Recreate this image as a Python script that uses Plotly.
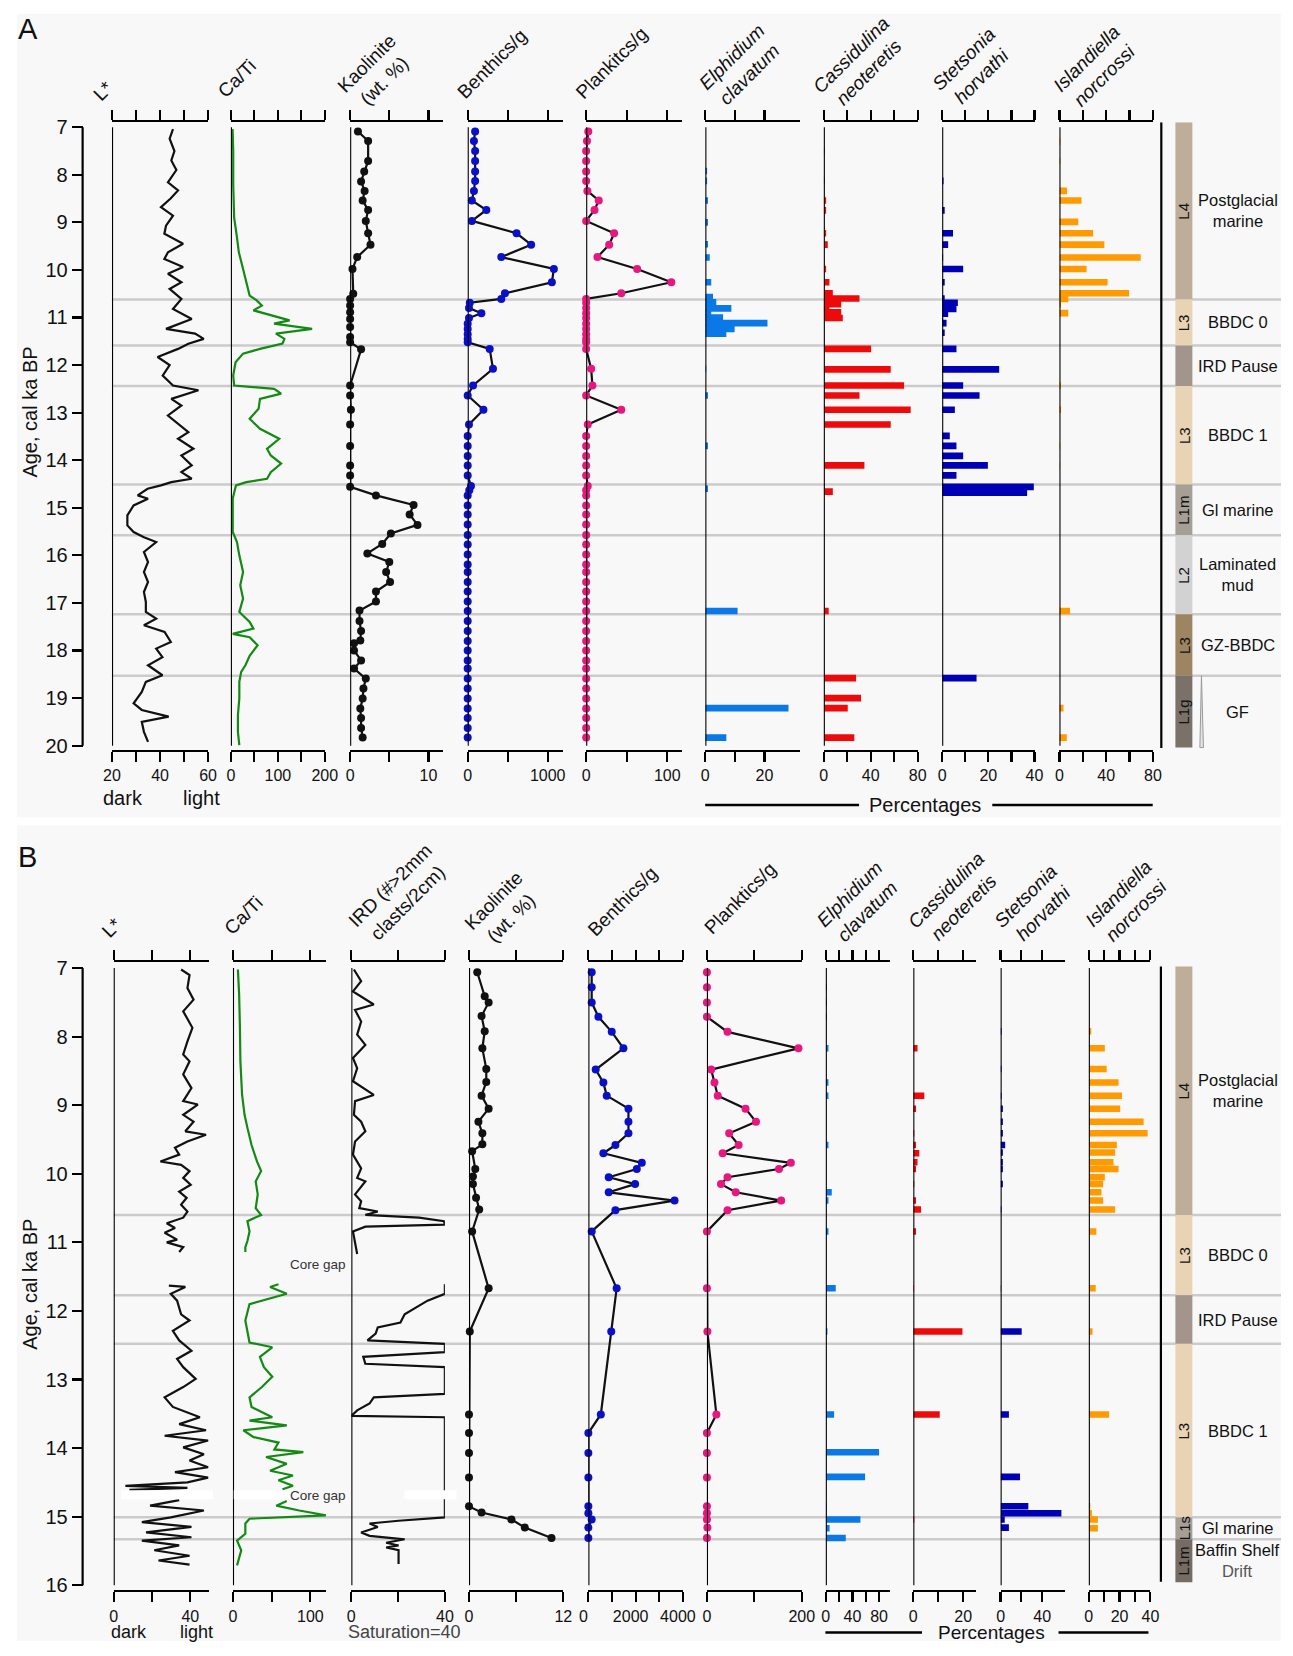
import plotly.graph_objects as go

# Page geometry: the photographed page shows the figure offset by (16, 15) px and scaled by
# (0.984, 0.993); positions below are given in target-picture pixels and converted here.
OX, OY = 16.0, 15.0
SX, SY = 0.984, 0.993
W, H = 1286, 1640
def px(v): return ((v - OX) / SX) / W
def py(v): return 1 - ((v - OY) / SY) / H

FONT = "Liberation Sans, Arial, Helvetica, sans-serif"

# ======================= PANEL A DATA =======================
A_LSTAR_AGE = [7.04,7.24,7.5,7.7,7.9,8.16,8.33,8.5,8.68,8.86,9.07,9.24,9.45,9.63,9.77,9.94,10.08,10.26,10.4,10.61,
               10.82,11.03,11.24,11.34,11.45,11.55,11.66,11.83,12.0,12.22,12.43,12.53,12.71,12.85,13.06,13.23,13.41,
               13.55,13.76,13.9,14.11,14.25,14.39,14.46,14.53,14.6,14.74,14.81,14.95,15.16,15.37,15.51,15.62,15.72,
               15.93,16.14,16.35,16.56,16.77,16.98,17.19,17.33,17.47,17.61,17.82,17.96,18.14,18.31,18.52,18.66,18.87,
               19.11,19.25,19.39,19.5,19.71,19.92]
A_LSTAR = [45.4,44,46,44.7,46.8,43.3,47.5,44.4,40.4,45.4,42.5,41.8,49.6,43.3,41.8,49.6,43.3,48.9,44,48.9,
           45.4,53.2,42.5,54.6,58.2,51.8,47.5,39,44,41.1,45.4,56,44.7,48.9,43.3,47.5,51.8,
           47.5,53.9,48.9,53.2,48.9,53.2,44.7,40.4,34.8,30.7,35,29,26.4,26.4,29,33.3,38.4,
           33.3,35,33.3,35,33.3,34.1,34.1,38.4,33.3,41.9,44.5,38.4,41,35,41,34.1,32.4,
           29,32.4,43.6,32.4,33.3,35]

A_CATI_AGE = [7.04,7.5,8.2,8.9,9.28,9.63,9.9,10.12,10.33,10.54,10.64,10.75,10.85,10.96,11.06,11.13,11.24,11.34,
              11.45,11.55,11.66,11.76,11.94,12.22,12.43,12.5,12.6,12.71,12.92,13.13,13.34,13.55,13.76,13.9,14.07,
              14.25,14.39,14.46,14.53,14.6,14.81,15.51,15.72,16.0,16.35,16.63,16.91,17.19,17.4,17.54,17.65,17.72,
              17.89,18.11,18.31,18.45,18.66,19.01,19.36,19.71,19.99]
A_CATI = [3.7,5,5,7,12.5,17,24,29,35,40,55,66,48,88,125,92,173,96,
          114,110,62,26,10,5,7,92,107,62,59,40,62,103,77,85,107,
          85,77,33,11,9,4,4,13,18,26,20,26,18,40,48,4,40,
          57,40,31,22,18,18,15,15,18]

A_KAO_AGE = [7.09,7.29,7.71,7.93,8.14,8.34,8.54,8.74,8.97,9.23,9.47,9.73,9.98,10.5,10.61,10.75,10.89,11.03,11.2,
             11.41,11.52,11.67,12.43,12.64,12.94,13.25,13.7,14.11,14.32,14.56,14.74,14.94,15.14,15.36,15.54,15.76,
             15.96,16.14,16.35,16.56,16.76,16.97,17.16,17.38,17.59,17.79,17.85,18.0,18.21,18.38,18.59,18.8,19.01,
             19.22,19.42,19.63,19.83]
A_KAO = [1.0,2.3,2.3,1.8,1.4,1.85,1.6,2.3,2.0,2.3,2.6,0.9,0.3,0.4,0,0,0,0,0,
         0,0,1.4,0,0,0.1,0,0,0,0,0,3.3,8.1,7.6,8.6,5.2,4.1,
         2.2,5.0,4.6,5.1,3.3,3.3,1.2,1.2,1.4,1.3,0.5,0.5,1.4,0.5,2.0,1.7,1.6,
         1.3,1.4,1.4,1.6]

A_FORAM_AGE = [7.09,7.29,7.5,7.71,7.93,8.13,8.34,8.54,8.74,8.97,9.23,9.47,9.73,9.98,10.26,10.49,10.61,
               10.69,10.8,10.91,11.01,11.13,11.24,11.35,11.45,11.52,
               11.66,12.08,12.43,12.64,12.94,13.25,
               13.49,13.70,13.91,14.11,14.32,14.54,14.63,14.74,14.95,15.14,15.35,15.57,15.77,15.98,16.19,16.35,
               16.56,16.76,16.97,17.17,17.38,17.59,17.80,18.0,18.21,18.38,18.59,18.8,19.01,19.22,19.42,19.63,19.83]
A_BENTH = [93,78,93,93,93,93,78,52,233,52,611,793,420,1077,1052,466,420,
           26,16,171,16,0,0,0,0,0,
           275,316,67,0,197,16,
           0,0,0,0,0,41,20,0,0,0,0,0,0,0,0,0,
           0,0,0,0,0,0,0,0,0,0,0,0,0,0,0,0,0]
A_PLANK = [2.6,1,0,0,0,0,1.5,15.5,10.3,0,34.5,28.4,13.9,62.9,105,43.3,0,
           0,0,0,0,0,0,0,0,0,
           0,6.2,7.7,0,43.3,2,
           0,0,0,0,0,2,0,0,0,0,0,0,0,0,0,0,
           0,0,0,0,0,0,0,0,0,0,0,0,0,0,0,0,0]

A_ELPH_AGE = [7.92,8.13,8.54,9.0,9.46,9.74,10.26,10.57,10.68,10.81,10.89,11.0,11.12,11.24,11.34,12.08,12.64,13.7,
              14.6,17.17,19.21,19.83]
A_ELPH = [0.6,0.6,0.9,0.9,0.9,1.5,2.0,2.6,3.7,8.8,2.0,6.0,21,9.9,7.1,0.3,0.9,0.9,0.9,10.9,28.1,7.1]

A_CASS_AGE = [7.51,8.13,8.54,8.75,9.23,9.47,9.98,10.26,10.49,10.6,10.72,10.82,10.89,11.01,11.66,12.09,12.43,12.64,
              12.94,13.25,14.11,14.56,14.66,17.17,18.58,19.0,19.21,19.83]
A_CASS = [0.6,0.6,2,2,2,3.4,2,4.8,7.7,30.4,14.8,4.8,14.8,16.2,40.3,57,68.4,30.4,74,57,34.6,0.5,7.7,4.2,27.5,31.7,
          20.4,26]

A_STET_AGE = [8.13,8.75,9.23,9.47,9.74,9.98,10.26,10.6,10.69,10.82,10.92,11.01,11.12,11.32,11.66,12.09,12.43,12.64,
              12.94,13.49,13.7,13.91,14.11,14.32,14.56,14.68,18.58]
A_STET = [0.6,1.1,4.7,2.6,0.4,9.1,1.1,1.1,6.8,6.2,2.6,0.4,1.9,1.1,6.2,24.7,9.1,16.2,5.5,3.3,6.2,9.1,19.8,6.2,39.7,
          36.8,14.9]

A_ISL_AGE = [7.3,7.71,8.34,8.54,8.99,9.23,9.47,9.74,9.98,10.26,10.49,10.61,10.72,10.91,12.43,12.94,13.7,14.11,17.17,
             19.21,19.83]
A_ISL = [0.8,0.8,6.5,18.9,16.1,28.8,38.4,69.5,23.2,41.2,59.6,7.6,1.4,7.6,1.4,1.4,0.6,0.6,9.1,3.5,6.3]

A_BOUNDS = [10.62, 11.59, 12.44, 14.51, 15.58, 17.24, 18.53]
A_UNIT_TOP = [6.895, 10.62, 11.59, 12.44, 14.51, 15.58, 17.24, 18.53]
A_UNIT_BOT = [10.62, 11.59, 12.44, 14.51, 15.58, 17.24, 18.53, 20.04]
A_UNIT_TAG = ["L4", "L3", "", "L3", "L1m", "L2", "L3", "L1g"]
A_UNIT_NAME = ["Postglacial<br>marine", "BBDC 0", "IRD Pause", "BBDC 1", "Gl marine", "Laminated<br>mud",
               "GZ-BBDC", "GF"]
A_UNIT_COLOR = ["#bead98", "#e8d4b4", "#a3958b", "#e8d4b4", "#a69f96", "#d2d2d2", "#9d8463", "#7a7168"]

# ======================= PANEL B DATA =======================
B_LSTAR_AGE = [7.02,7.1,7.29,7.46,7.63,7.87,8.07,8.26,8.36,8.55,8.75,8.94,8.99,9.14,9.24,9.38,9.43,9.53,9.62,9.72,
               9.82,9.87,9.96,10.06,10.16,10.26,10.35,10.45,10.55,10.64,10.72,10.79,10.86,10.96,11.0,11.07,11.14,
               None,
               11.63,11.65,11.75,11.85,12.05,12.14,12.29,12.43,12.58,12.7,12.82,12.99,13.11,13.26,13.4,13.55,13.65,
               13.74,13.82,13.89,13.99,14.09,14.18,14.28,14.35,14.43,14.5,14.55,14.58,14.61,
               None,
               14.76,14.84,14.91,15.01,15.08,15.15,15.23,15.3,15.35,15.42,15.49,15.57,15.64,15.7]
B_LSTAR = [35.2,39.6,38.5,41.7,36.3,41.1,38.5,36.3,39.6,36.3,40.6,36.3,43.9,36.3,41.7,37.4,48.2,38.5,32,34.2,
           24.4,35.2,39.6,36.3,40.2,34.2,38.1,35.2,38.5,36.3,27.7,32,26.6,33.1,27.7,36.3,34.2,
           None,
           28.8,37.4,29.8,33.1,35.2,39.6,30.9,34.2,40.6,33.1,36.3,42.8,36.3,26.6,30.9,45,34.2,
           48.2,26.6,49.3,36.3,47.1,39.6,49.3,32,49.3,38.5,6.1,38.5,8.2,
           None,
           34.2,19,47.1,29.8,14.7,40.6,16.9,40.6,14.7,34.2,21.2,39.6,23.4,39.6]

B_CATI_AGE = [7.02,7.39,7.87,8.36,8.85,9.14,9.33,9.58,9.82,9.96,10.11,10.3,10.5,10.6,10.69,10.84,10.98,11.07,11.14,
              None,
              11.61,11.65,11.75,11.9,12.14,12.33,12.46,12.53,12.67,12.82,12.96,13.11,13.26,13.4,13.55,13.6,13.67,
              13.74,13.84,13.92,14.02,14.06,14.13,14.23,14.33,14.4,14.47,14.55,14.6,
              None,
              14.77,14.84,14.91,14.98,15.03,15.1,15.25,15.35,15.49,15.61,15.71]
B_CATI = [6.4,8,9,9.6,11.8,15,18.7,24,31,36.4,29.4,32,29.4,36.4,18.7,21.4,18.7,16,16,
          None,
          58.8,48,69.5,21.4,16,18.7,21.4,50.8,34.8,40,50.8,37.4,21.4,24,50.8,21.4,69.5,
          13.4,26.7,58.8,53.5,90.9,42.8,69.5,48,77.5,58.8,77.5,64,
          None,
          69.5,56,85.6,120,21.4,16,16,5.3,10.7,8,5.3]

B_IRD_AGE = [7.02,7.19,7.34,7.53,7.61,7.78,7.97,8.12,8.31,8.46,8.65,8.85,8.94,9.14,9.24,9.38,9.53,9.72,9.92,10.06,
             10.11,10.3,10.4,10.5,10.55,10.6,10.64,10.69,10.74,10.77,10.84,10.98,11.17,
             None,
             11.61,11.75,11.85,12.05,12.17,12.24,12.33,12.43,12.48,12.6,12.67,12.77,12.82,13.21,13.26,13.35,13.45,
             13.53,13.55,15.01,15.06,15.1,15.15,15.23,15.28,15.33,15.38,15.42,15.45,15.49,15.69]
B_IRD = [1.1,4.2,0.7,9.6,1.6,4.2,2.5,6,0.7,2.5,0.7,9.6,1.6,1.1,4.2,6,1.6,0.7,4.2,2.5,
         6,1.6,4.2,3.4,11.3,6,29,39.6,40,6,0.7,1.6,2.5,
         None,
         40,40,32.6,22.8,21,11.3,10.4,6.9,40,40,5.1,6,40,40,9.6,7.8,2.5,
         0,40,40,20.2,7.8,11.3,4.2,7.8,22.8,14.9,20.2,14.9,20.2,20.2]

B_KAO_AGE = [7.06,7.41,7.5,7.7,7.92,8.17,8.47,8.66,8.86,9.05,9.24,9.41,9.57,9.67,9.93,10.04,10.15,10.35,10.52,10.84,
             11.67,12.3,13.51,13.78,14.07,14.43,14.85,14.94,15.04,15.16,15.31]
B_KAO = [1.05,2.0,2.5,1.6,2.0,1.7,2.2,2.2,1.6,2.5,1.2,1.7,1.7,0.4,0.8,0.5,0.5,0.9,1.3,0.4,
         2.5,0.1,0,0,0,0,0,1.6,5.4,7.1,10.5]
B_KAO_EXTRA_AGE = [15.84]
B_KAO_EXTRA = [12.1]

B_FORAM_AGE = [7.06,7.28,7.5,7.71,7.93,8.17,8.48,8.67,8.86,9.05,9.24,9.41,9.58,9.7,9.84,9.93,10.05,10.15,10.27,10.39,
               10.53,10.84,11.67,12.3,13.51,13.78,14.07,14.43,14.85,14.95,15.04,15.16,15.31]
B_BENTH = [141,141,141,424,989,1484,311,636,777,1696,1696,1696,1145,636,2261,2049,862,1978,862,3646,
           1145,141,1197,968,527,0,0,0,0,0,140,0,0]
B_PLANK = [0,0,0,0,43.4,193,9,15.9,22.8,81.4,103.4,46.9,66.9,33.1,177,152,43.4,29.7,60.7,156.6,
           43.4,0,0,1,19.9,0,0,0,0,0,0,1,0]

B_ELPH_AGE = [7.28,7.5,7.71,8.17,8.67,8.86,9.58,10.27,10.39,10.84,11.67,12.3,13.51,14.06,14.42,14.85,14.95,15.04,
              15.17,15.31]
B_ELPH = [1.5,1.5,1.5,4,4,4,4,9,4,4,15,2.5,12.5,80,59,1,1,52,5.7,30]

B_CASS_AGE = [8.17,8.86,9.05,9.41,9.58,9.7,9.83,9.93,10.15,10.39,10.52,10.84,11.67,12.3,13.51,15.04]
B_CASS = [1.7,4.4,1.1,0.4,1.1,2.4,1.7,1.1,0.4,1.1,3.1,1.1,0.3,19.7,10.6,0.4]

B_STET_AGE = [7.92,8.47,8.86,9.05,9.24,9.41,9.58,9.69,9.83,9.93,10.15,10.52,11.67,12.3,13.51,14.42,14.85,14.95,
              15.04,15.16]
B_STET = [0.9,0.9,0.9,2.2,2.2,2.2,4.4,2.2,2.2,2.2,2.2,0.9,0.5,20.3,8,18.7,26.7,58.5,4,8]

B_ISL_AGE = [7.92,8.17,8.47,8.67,8.86,9.05,9.24,9.41,9.58,9.69,9.83,9.93,10.05,10.15,10.27,10.39,10.52,10.84,11.67,
             12.3,13.51,14.85,14.95,15.04,15.17]
B_ISL = [1.6,10.4,11.6,19.3,21.6,20.4,35.6,38.2,18.2,17.1,16,19.3,10.4,9.3,8.2,9.3,17.1,4.9,4.5,2.4,13.2,1,2,5.9,5.9]

B_BOUNDS = [10.60, 11.77, 12.48, 15.01, 15.33]
B_UNIT_TOP = [6.975, 10.60, 11.77, 12.48, 15.01, 15.33]
B_UNIT_BOT = [10.60, 11.77, 12.48, 15.01, 15.33, 15.955]
B_UNIT_TAG = ["L4", "L3", "", "L3", "L1s", "L1m"]
B_UNIT_NAME = ["Postglacial<br>marine", "BBDC 0", "IRD Pause", "BBDC 1", "Gl marine",
               "Baffin Shelf<br><span style='color:#555'>Drift</span>"]
B_UNIT_COLOR = ["#bead98", "#e8d4b4", "#a3958b", "#e8d4b4", "#a69f96", "#756c63"]

AGE_TICKS_A = [7, 8, 9, 10, 11, 12, 13, 14, 15, 16, 17, 18, 19, 20]
AGE_TICKS_B = [7, 8, 9, 10, 11, 12, 13, 14, 15, 16]

# ======================= TRACK LAYOUT =======================
# (panel, left px, right px, range, tick values, tick labels, header, header cx, header cy, zero, label shift)
TRACKS = [
    ('A', 111.1, 207.3, [20, 60.01], [20, 30, 40, 50, 60], ['20', '', '40', '', '60'], "L*", 102.8, 92, 20, 0),
    ('A', 230.1, 324.2, [0, 200.1], [0, 50, 100, 150, 200], ['0', '', '100', '', '200'], "Ca/Ti", 236.3, 80, 0, 0),
    ('A', 349.5, 442.8, [0, 11.9], [0, 5, 10], ['0', '', '10'], "Kaolinite<br>(wt. %)", 375.2, 73, 0, 0),
    ('A', 467.2, 562.6, [0, 1191], [0, 500, 1000], ['0', '', '1000'], "Benthics/g", 492, 65, 0, 0),
    ('A', 585.8, 681.5, [0, 117.9], [0, 50, 100], ['0', '', '100'], "Plankitcs/g", 612, 64, 0, 0),
    ('A', 705.1, 799.6, [0, 31.9], [0, 10, 20], ['0', '', '20'], "<i>Elphidium<br>clavatum</i>", 740.3, 67, 0, 0),
    ('A', 823.7, 917.8, [0, 80.05], [0, 20, 40, 60, 80], ['0', '', '40', '', '80'],
     "<i>Cassidulina<br>neoteretis</i>", 859.7, 65, 0, 0),
    ('A', 942.2, 1034.7, [0, 40.02], [0, 10, 20, 30, 40], ['0', '', '20', '', '40'],
     "<i>Stetsonia<br>horvathi</i>", 972.5, 69, 0, 0),
    ('A', 1059.6, 1153.3, [0, 80.05], [0, 20, 40, 60, 80], ['0', '', '40', '', '80'],
     "<i>Islandiella<br>norcrossi</i>", 1096, 68, 0, 0),
    ('B', 112.8, 208.1, [0, 49.7], [0, 20, 40], ['0', '', '40'], "L*", 110.7, 929, 0, 0),
    ('B', 232.2, 325.5, [0, 120.4], [0, 50, 100], ['0', '', '100'], "Ca/Ti", 242.5, 917, 0, 0),
    ('B', 350.7, 444.4, [0, 40.02], [0, 20, 40], ['0', '', '40'], "IRD (#>2mm<br>clasts/2cm)", 398.8, 896, 0, 0),
    ('B', 468.5, 563.0, [0, 12.01], [0, 6, 12], ['0', '', '12'], "Kaolinite<br>(wt. %)", 502.5, 911, 0, 0),
    ('B', 588.0, 682.7, [0, 4002], [0, 1000, 2000, 3000, 4000], ['0', '', '2000', '', '4000'], "Benthics/g",
     622, 903, 0, -5),
    ('B', 706.7, 801.7, [0, 200.1], [0, 100, 200], ['0', '', '200'], "Planktics/g", 739.5, 900, 0, 0),
    ('B', 825.7, 890.0, [0, 96.5], [0, 20, 40, 60, 80], ['0', '', '40', '', '80'],
     "<i>Elphidium<br>clavatum</i>", 858.5, 905, 0, 0),
    ('B', 913.3, 976.0, [0, 25.1], [0, 10, 20], ['0', '', '20'], "<i>Cassidulina<br>neoteretis</i>", 955, 901, 0, 0),
    ('B', 1000.7, 1065.0, [0, 61.8], [0, 20, 40], ['0', '', '40'], "<i>Stetsonia<br>horvathi</i>", 1034.7, 907, 0, 0),
    ('B', 1089.0, 1150.7, [0, 40.02], [0, 10, 20, 30, 40], ['0', '', '20', '', '40'],
     "<i>Islandiella<br>norcrossi</i>", 1128, 904, 0, 0),
]
NT = len(TRACKS)

C_BLACK = "#111111"
C_GREEN = "#138a13"
C_BLUE_DOT = "#0a10c8"
C_PINK = "#e8167f"
C_ELPH = "#0a78e6"
C_CASS = "#ee0a0a"
C_STET = "#0000b4"
C_ISL = "#ff9a00"
LW = 2.2

fig = go.Figure()

def xa(i):
    return 'x' if i == 1 else f'x{i}'

def yref_of(panel):
    return 'y' if panel == 'A' else 'y2'

def add_line(i, xs, ys, color, width=LW):
    p = TRACKS[i - 1][0]
    fig.add_trace(go.Scatter(x=xs, y=ys, mode='lines', line=dict(color=color, width=width),
                             xaxis=xa(i), yaxis=yref_of(p), hoverinfo='skip', connectgaps=False))

def add_dots(i, xs, ys, dotcolor, size=8, with_line=True):
    p = TRACKS[i - 1][0]
    fig.add_trace(go.Scatter(x=xs, y=ys, mode='lines+markers' if with_line else 'markers',
                             line=dict(color=C_BLACK, width=LW),
                             marker=dict(color=dotcolor, size=size, line=dict(width=0)),
                             xaxis=xa(i), yaxis=yref_of(p), hoverinfo='skip', cliponaxis=False))

def add_bars(i, xs, ys, color, width):
    p = TRACKS[i - 1][0]
    fig.add_trace(go.Bar(x=xs, y=ys, orientation='h', width=width, base=0,
                         marker=dict(color=color, line=dict(width=0)),
                         xaxis=xa(i), yaxis=yref_of(p), hoverinfo='skip'))

# Panel A traces
add_line(1, A_LSTAR, A_LSTAR_AGE, C_BLACK)
add_line(2, A_CATI, A_CATI_AGE, C_GREEN)
add_dots(3, A_KAO, A_KAO_AGE, C_BLACK)
add_dots(4, A_BENTH, A_FORAM_AGE, C_BLUE_DOT)
add_dots(5, A_PLANK, A_FORAM_AGE, C_PINK)
add_bars(6, A_ELPH, A_ELPH_AGE, C_ELPH, 0.14)
add_bars(7, A_CASS, A_CASS_AGE, C_CASS, 0.14)
add_bars(8, A_STET, A_STET_AGE, C_STET, 0.14)
add_bars(9, A_ISL, A_ISL_AGE, C_ISL, 0.14)
# Panel B traces
add_line(10, B_LSTAR, B_LSTAR_AGE, C_BLACK)
add_line(11, B_CATI, B_CATI_AGE, C_GREEN)
add_line(12, B_IRD, B_IRD_AGE, C_BLACK)
add_dots(13, B_KAO, B_KAO_AGE, C_BLACK)
add_dots(13, B_KAO_EXTRA, B_KAO_EXTRA_AGE, C_BLACK, with_line=False)
add_dots(14, B_BENTH, B_FORAM_AGE, C_BLUE_DOT)
add_dots(15, B_PLANK, B_FORAM_AGE, C_PINK)
add_bars(16, B_ELPH, B_ELPH_AGE, C_ELPH, 0.095)
add_bars(17, B_CASS, B_CASS_AGE, C_CASS, 0.095)
add_bars(18, B_STET, B_STET_AGE, C_STET, 0.095)
add_bars(19, B_ISL, B_ISL_AGE, C_ISL, 0.095)

# invisible traces on the top axes so they render
for i, tr in enumerate(TRACKS, start=1):
    fig.add_trace(go.Scatter(x=[tr[3][0]], y=[7], mode='markers', marker=dict(opacity=0, size=1),
                             xaxis=xa(i + NT), yaxis=yref_of(tr[0]), hoverinfo='skip'))

layout = dict(width=W, height=H, autosize=False, margin=dict(l=0, r=0, t=0, b=0, pad=0),
              paper_bgcolor='white', plot_bgcolor='rgba(0,0,0,0)', showlegend=False,
              barmode='overlay', hovermode=False, font=dict(family=FONT, color=C_BLACK))

AX_COMMON = dict(showline=True, linecolor='black', linewidth=LW, ticks='outside', ticklen=10, tickwidth=LW,
                 tickcolor='black', showgrid=False, zeroline=False, fixedrange=True)

for i, tr in enumerate(TRACKS, start=1):
    panel, x0, x1, rng, tv, tt, shift = tr[0], tr[1], tr[2], tr[3], tr[4], tr[5], tr[10]
    yr = yref_of(panel)
    bname = 'xaxis' if i == 1 else f'xaxis{i}'
    layout[bname] = dict(domain=[px(x0), px(x1)], range=rng, anchor=yr, side='bottom',
                         tickvals=tv, ticktext=tt, tickfont=dict(size=16, color=C_BLACK),
                         ticklabelshift=shift, **AX_COMMON)
    layout[f'xaxis{i + NT}'] = dict(overlaying=xa(i), range=rng, anchor=yr, side='top',
                                    tickvals=tv, showticklabels=False, **AX_COMMON)

layout['yaxis'] = dict(domain=[py(751.7), py(123.3)], range=[20.092, 6.895], anchor='free', position=px(81.7),
                       tickvals=AGE_TICKS_A, ticks='outside', ticklen=11, tickwidth=LW, tickcolor='black',
                       showline=False, showgrid=False, zeroline=False, tickfont=dict(size=20, color=C_BLACK),
                       fixedrange=True)
layout['yaxis2'] = dict(domain=[py(1592.7), py(964.3)], range=[16.073, 6.917], anchor='free', position=px(81.7),
                        tickvals=AGE_TICKS_B, ticks='outside', ticklen=11, tickwidth=LW, tickcolor='black',
                        showline=False, showgrid=False, zeroline=False, tickfont=dict(size=20, color=C_BLACK),
                        fixedrange=True)

shapes = []
# panel backgrounds
shapes.append(dict(type='rect', xref='paper', yref='paper', x0=0, x1=1, y0=py(819), y1=1,
                   fillcolor='#f8f8f8', line=dict(width=0), layer='below'))
shapes.append(dict(type='rect', xref='paper', yref='paper', x0=0, x1=1, y0=0, y1=py(827),
                   fillcolor='#f8f8f8', line=dict(width=0), layer='below'))
# unit boundary lines
for b in A_BOUNDS:
    shapes.append(dict(type='line', xref='paper', yref='y', x0=px(111), x1=1, y0=b, y1=b,
                       line=dict(color='#cbcbcb', width=2.5), layer='below'))
for b in B_BOUNDS:
    shapes.append(dict(type='line', xref='paper', yref='y2', x0=px(112.8), x1=1, y0=b, y1=b,
                       line=dict(color='#cbcbcb', width=2.5), layer='below'))
# unit colour bars
for t, bt, c in zip(A_UNIT_TOP, A_UNIT_BOT, A_UNIT_COLOR):
    shapes.append(dict(type='rect', xref='paper', yref='y', x0=px(1175.7), x1=px(1192.7), y0=t, y1=bt,
                       fillcolor=c, line=dict(width=0), layer='below'))
for t, bt, c in zip(B_UNIT_TOP, B_UNIT_BOT, B_UNIT_COLOR):
    shapes.append(dict(type='rect', xref='paper', yref='y2', x0=px(1175.7), x1=px(1192.7), y0=t, y1=bt,
                       fillcolor=c, line=dict(width=0), layer='below'))
# GF wedge
shapes.append(dict(type='path', xref='paper', yref='y',
                   path=f"M {px(1201.8)},18.53 L {px(1203.8)},20.04 L {px(1200.2)},20.04 Z",
                   fillcolor='#e2e2e2', line=dict(color='#9a9a9a', width=1)))
# right lines
shapes.append(dict(type='line', xref='paper', yref='y', x0=px(1161.6), x1=px(1161.6), y0=6.895, y1=20.05,
                   line=dict(color='black', width=LW)))
shapes.append(dict(type='line', xref='paper', yref='y2', x0=px(1161.2), x1=px(1161.2), y0=6.975, y1=15.95,
                   line=dict(color='black', width=LW)))
# age spines
shapes.append(dict(type='line', xref='paper', yref='y', x0=px(81.7), x1=px(81.7), y0=7, y1=20,
                   line=dict(color='black', width=LW)))
shapes.append(dict(type='line', xref='paper', yref='y2', x0=px(81.7), x1=px(81.7), y0=7, y1=16,
                   line=dict(color='black', width=LW)))
# zero lines of each track
for i, tr in enumerate(TRACKS, start=1):
    yr = yref_of(tr[0])
    y1 = 20 if tr[0] == 'A' else 16
    shapes.append(dict(type='line', xref=xa(i), yref=yr, x0=tr[9], x1=tr[9], y0=7, y1=y1,
                       line=dict(color='black', width=LW)))
# core gap masks
for gx0, gx1 in [(120, 212), (233, 290), (404, 456)]:
    shapes.append(dict(type='rect', xref='paper', yref='paper', x0=px(gx0), x1=px(gx1), y0=py(1501.7),
                       y1=py(1492.7), fillcolor='white', line=dict(width=0)))
# percentages lines
for (a, b, yy) in [(705, 859, 806.7), (992.4, 1153, 806.7), (825.3, 922, 1635), (1058.7, 1148.7, 1635)]:
    shapes.append(dict(type='line', xref='paper', yref='paper', x0=px(a), x1=px(b), y0=py(yy), y1=py(yy),
                       line=dict(color='black', width=2.5)))
layout['shapes'] = shapes

anns = []
def ann(text, x, y, size, angle=0, color=C_BLACK, xanchor='center', yanchor='middle', yref='paper', yval=None):
    anns.append(dict(text=text, xref='paper', yref=yref, x=px(x), y=(py(y) if yref == 'paper' else yval),
                     showarrow=False, textangle=angle, font=dict(size=size, color=color, family=FONT),
                     xanchor=xanchor, yanchor=yanchor, align='center'))

ann("A", 27, 30, 29)
ann("B", 27, 859, 29)
for tr in TRACKS:
    ann(tr[6], tr[7], tr[8], 19, angle=-45)
ann("Age, cal ka BP", 29, 413, 20, angle=-90)
ann("Age, cal ka BP", 29, 1286, 20, angle=-90)
ann("dark", 122.3, 800, 20)
ann("light", 201, 800, 20)
ann("dark", 128.5, 1635, 18)
ann("light", 195.7, 1635, 18)
ann("Saturation=40", 404, 1635, 18, color='#444444')
ann("Percentages", 925, 806.7, 20)
ann("Percentages", 991.6, 1635, 19)
ann("Core gap", 317, 1267, 13.5, color='#333333')
ann("Core gap", 317, 1497.7, 13.5, color='#333333')
for t, bt, tag, name in zip(A_UNIT_TOP, A_UNIT_BOT, A_UNIT_TAG, A_UNIT_NAME):
    mid = (t + bt) / 2
    if tag:
        ann(tag, 1184.2, 0, 15, angle=-90, yref='y', yval=mid)
    ann(name, 1238, 0, 16.5, yref='y', yval=mid)
for t, bt, tag, name in zip(B_UNIT_TOP, B_UNIT_BOT, B_UNIT_TAG, B_UNIT_NAME):
    mid = (t + bt) / 2
    if tag:
        ann(tag, 1184.2, 0, 15, angle=-90, yref='y2', yval=mid)
    ann(name, 1238, 0, 16.5, yref='y2', yval=mid)
layout['annotations'] = anns

fig.update_layout(**layout)

fig.write_html("out.html", include_plotlyjs=True, full_html=True,
               config={'displayModeBar': False, 'staticPlot': True, 'responsive': False})
